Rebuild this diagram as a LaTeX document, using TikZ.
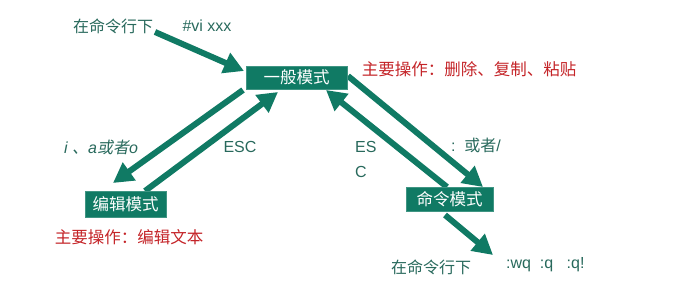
\documentclass[tikz,border=0pt]{standalone}
\usepackage{fontspec}
\setmainfont{Noto Sans CJK SC}
\newfontfamily\cjkit[FakeSlant=0.2]{Noto Sans CJK SC}
\newfontfamily\lat{Liberation Sans}
\usetikzlibrary{arrows.meta}
\definecolor{vgreen}{RGB}{16,122,100}
\definecolor{vtext}{RGB}{40,105,92}
\definecolor{vred}{RGB}{196,36,40}
\tikzset{
  modebox/.style={fill=vgreen,draw=vgreen!80!white,line width=0.6pt,text=white,font=\fontsize{16.5}{18}\selectfont,inner sep=0pt},
  lbl/.style={text=vtext,font=\fontsize{16}{18}\selectfont,inner sep=0pt},
  redlbl/.style={text=vred,font=\fontsize{16.5}{18}\selectfont,inner sep=0pt},
  bigarrow/.style={draw=vgreen,line width=6pt,-{Triangle[length=20pt,width=21pt]}}
}
\begin{document}
\begin{tikzpicture}[x=1pt,y=-1pt]
\useasboundingbox (0,0) rectangle (700,283);
% mode boxes
\node[modebox,minimum width=101pt,minimum height=23pt] (normal) at (296.5,77.5) {一般模式};
\node[modebox,minimum width=81pt,minimum height=26pt] (edit) at (125.5,204) {编辑模式};
\node[modebox,minimum width=87pt,minimum height=24pt] (cmd) at (449.5,199) {命令模式};
% labels
\node[lbl] (start) at (113,26) {在命令行下};
\node[lbl] (vi) at (207,26) {\lat\#vi xxx};
\node[redlbl] (nops) at (469,69) {主要操作：删除、复制、粘贴};
\node[lbl] (iao) at (101,147) {{\lat\itshape i }{\cjkit 、}{\lat\itshape a}{\cjkit 或者}{\lat\itshape o}};
\node[lbl] (esc1) at (240,147) {\lat ESC};
\node[lbl,anchor=west] (esc2a) at (355,147) {\lat ES};
\node[lbl,anchor=west] (esc2b) at (355,172) {\lat C};
\node[lbl] (colon) at (476,145) {{\lat :\ \ }或者{\lat /}};
\node[redlbl] (eops) at (129,237) {主要操作：编辑文本};
\node[lbl] (endcmd) at (431,267) {在命令行下};
\node[lbl,anchor=west] (wq) at (506,265) {\lat :wq\ \ :q\ \ \ :q!};
% arrow endpoints
\coordinate (s0) at (155,32);
\coordinate (t0) at (244,71);
\coordinate (s1) at (243,90);
\coordinate (t1) at (113,183);
\coordinate (s2) at (145,191);
\coordinate (t2) at (278,92);
\coordinate (s3) at (348,76);
\coordinate (t3) at (483,187);
\coordinate (s4) at (447,187);
\coordinate (t4) at (326,90);
\coordinate (s5) at (445,215);
\coordinate (t5) at (493,255);
% arrows
\draw[bigarrow] (s0) -- (t0);
\draw[bigarrow] (s1) -- (t1);
\draw[bigarrow] (s2) -- (t2);
\draw[bigarrow] (s3) -- (t3);
\draw[bigarrow] (s4) -- (t4);
\draw[bigarrow] (s5) -- (t5);
% redraw boxes on top
\node[modebox,minimum width=101pt,minimum height=23pt] at (normal) {一般模式};
\node[modebox,minimum width=81pt,minimum height=26pt] at (edit) {编辑模式};
\node[modebox,minimum width=87pt,minimum height=24pt] at (cmd) {命令模式};
\end{tikzpicture}
\end{document}
